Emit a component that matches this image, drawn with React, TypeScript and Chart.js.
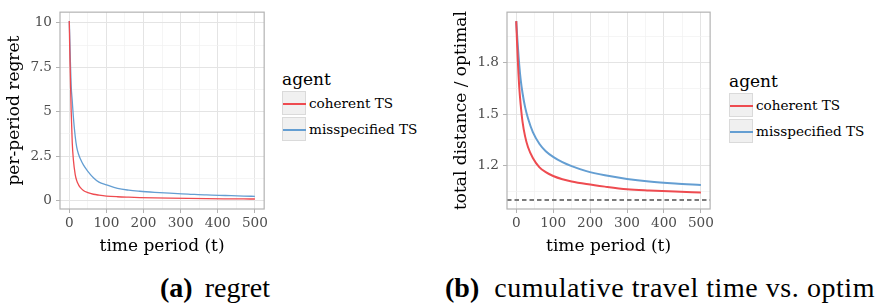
import React, { useEffect, useRef } from 'react';
import { Chart, registerables } from 'chart.js';

Chart.register(...registerables);

// ---------- data ----------
const T_REGRET = [0, 1, 2, 3, 5, 8, 11, 16, 20, 25, 30, 38, 50, 65, 80, 100, 130, 160, 190, 230, 270, 320, 370, 420, 470, 500];
const COHERENT_REGRET = [10.1, 8.8, 7.8, 6.9, 5.1, 3.25, 2.3, 1.46, 1.12, 0.88, 0.72, 0.56, 0.44, 0.35, 0.3, 0.25, 0.21, 0.185, 0.165, 0.145, 0.13, 0.115, 0.103, 0.094, 0.086, 0.082];
const MISSPEC_REGRET = [10.1, 9.4, 8.6, 7.8, 6.5, 5.6, 4.7, 3.6, 3.0, 2.6, 2.33, 2.0, 1.64, 1.28, 1.03, 0.88, 0.68, 0.58, 0.52, 0.46, 0.41, 0.36, 0.31, 0.28, 0.25, 0.23];

const T_TRAVEL = [0, 2, 4, 6, 8, 12, 17, 24, 32, 45, 63, 80, 100, 125, 150, 190, 240, 300, 360, 430, 500];
const COHERENT_TRAVEL = [2.04, 1.925, 1.825, 1.735, 1.66, 1.555, 1.456, 1.37, 1.307, 1.245, 1.19, 1.162, 1.14, 1.121, 1.108, 1.093, 1.078, 1.063, 1.0555, 1.049, 1.044];
const MISSPEC_TRAVEL = [2.04, 1.97, 1.905, 1.845, 1.789, 1.7, 1.622, 1.54, 1.474, 1.395, 1.326, 1.284, 1.251, 1.22, 1.197, 1.168, 1.144, 1.123, 1.108, 1.096, 1.087];
const OPTIMAL_LEVEL = 1.0;

const SERIES_NAMES = ['coherent TS', 'misspecified TS'];
const SERIES_COLORS = ['#EE4B50', '#649ED2'];

const X_TICKS = [0, 100, 200, 300, 400, 500];
const X_MINOR = [50, 150, 250, 350, 450];
const Y_REGRET_TICKS = [0, 2.5, 5, 7.5, 10];
const Y_REGRET_LABELS = ['0', '2.5', '5', '7.5', '10'];
const Y_REGRET_MINOR = [1.25, 3.75, 6.25, 8.75];
const Y_TRAVEL_TICKS = [1.2, 1.5, 1.8];
const Y_TRAVEL_LABELS = ['1.2', '1.5', '1.8'];
const Y_TRAVEL_MINOR = [1.05, 1.35, 1.65, 1.95];

const LEGEND_TITLE = 'agent';
const X_TITLE = 'time period (t)';
const Y_TITLE_REGRET = 'per-period regret';
const Y_TITLE_TRAVEL = 'total distance / optimal';
const CAPTION_A = ['(a)', 'regret'];
const CAPTION_B = ['(b)', 'cumulative travel time vs. optimal'];

// ---------- style ----------
const FONT = 'DejaVu Serif';
const CSS_FONT = '"DejaVu Serif", serif';
const CAPTION_FONT = '"Liberation Serif", serif';
const TICK_COLOR = '#4D4D4D';
const GRID_MAJOR = '#E4E4E4';
const GRID_MINOR = '#F1F1F1';
const AXIS_GREY = '#B3B3B3';

const panelPlugin = {
  id: 'panelBorder',
  afterDraw(chart: any) {
    const { ctx, chartArea: a } = chart;
    ctx.save();
    ctx.strokeStyle = AXIS_GREY;
    ctx.lineWidth = 1.2;
    ctx.strokeRect(a.left, a.top, a.right - a.left, a.bottom - a.top);
    ctx.restore();
  },
};

function refLinePlugin(value: number) {
  return {
    id: 'refLine',
    beforeDatasetsDraw(chart: any) {
      const { ctx, chartArea: a } = chart;
      const y = chart.scales.y.getPixelForValue(value);
      ctx.save();
      ctx.beginPath();
      ctx.rect(a.left, a.top, a.right - a.left, a.bottom - a.top);
      ctx.clip();
      ctx.strokeStyle = '#7A7A7A';
      ctx.lineWidth = 2;
      ctx.setLineDash([4.5, 3]);
      ctx.beginPath();
      ctx.moveTo(a.left, y);
      ctx.lineTo(a.right, y);
      ctx.stroke();
      ctx.restore();
    },
  };
}

function axisCfg(major: number[], labels: string[], minor: number[], min: number, max: number, title: string, isX: boolean) {
  const all = [...major, ...minor].sort((a, b) => a - b);
  const isMajor = (v: number) => major.some((m) => Math.abs(m - v) < 1e-9);
  return {
    type: 'linear',
    min,
    max,
    afterBuildTicks: (s: any) => {
      s.ticks = all.map((v) => ({ value: v }));
    },
    afterFit: (s: any) => {
      if (isX) s.height = 53;
      else s.width = 60;
    },
    border: { display: false },
    grid: {
      color: (c: any) => (c.tick && isMajor(c.tick.value) ? GRID_MAJOR : GRID_MINOR),
      lineWidth: (c: any) => (c.tick && isMajor(c.tick.value) ? 1 : 0.7),
      tickColor: (c: any) => (c.tick && isMajor(c.tick.value) ? AXIS_GREY : 'rgba(0,0,0,0)'),
      tickLength: 4,
      drawTicks: true,
    },
    ticks: {
      autoSkip: false,
      maxRotation: 0,
      minRotation: 0,
      padding: isX ? 2 : 4,
      color: TICK_COLOR,
      font: { family: FONT, size: 13.6 },
      callback: (v: number) => {
        const i = major.findIndex((m) => Math.abs(m - v) < 1e-9);
        return i >= 0 ? labels[i] : '';
      },
    },
    title: {
      display: true,
      text: title,
      color: '#000',
      font: { family: FONT, size: 17 },
      padding: isX ? { top: 0, bottom: 5 } : { top: 4, bottom: 4 },
    },
  };
}

function buildChart(
  canvas: HTMLCanvasElement,
  t: number[],
  series: number[][],
  yMin: number,
  yMax: number,
  yTicks: number[],
  yLabels: string[],
  yMinor: number[],
  yTitle: string,
  lineWidth: number,
  ref?: number
) {
  const plugins: any[] = [panelPlugin];
  if (ref !== undefined) plugins.push(refLinePlugin(ref));
  return new Chart(canvas, {
    type: 'line',
    data: {
      datasets: series.map((vals, si) => ({
        label: SERIES_NAMES[si],
        data: t.map((x, i) => ({ x, y: vals[i] })),
        borderColor: SERIES_COLORS[si],
        borderWidth: lineWidth,
        pointRadius: 0,
        fill: false,
        cubicInterpolationMode: 'monotone',
      })),
    },
    options: {
      animation: false,
      responsive: false,
      layout: { padding: { top: 4, right: 3, left: 0, bottom: 0 } },
      plugins: { legend: { display: false }, tooltip: { enabled: false } },
      scales: {
        x: axisCfg(X_TICKS, X_TICKS.map(String), X_MINOR, -25, 525, X_TITLE, true),
        y: axisCfg(yTicks, yLabels, yMinor, yMin, yMax, yTitle, false),
      },
    } as any,
    plugins,
  } as any);
}

function Legend({ left, top }: { left: number; top: number }) {
  return (
    <div style={{ position: 'absolute', left, top, fontFamily: CSS_FONT }}>
      <div style={{ fontSize: 17, lineHeight: '20px', height: 21, color: '#000' }}>{LEGEND_TITLE}</div>
      {SERIES_NAMES.map((name, i) => (
        <div key={name} style={{ display: 'flex', alignItems: 'center', height: 25, marginBottom: 1.6 }}>
          <div
            style={{
              width: 24,
              height: 24,
              background: '#F0F0F0',
              border: '0.5px solid #DADADA',
              position: 'relative',
              boxSizing: 'border-box',
            }}
          >
            <div
              style={{
                position: 'absolute',
                left: -0.5,
                right: -0.5,
                top: 11,
                height: 2,
                background: SERIES_COLORS[i],
              }}
            />
          </div>
          <div style={{ marginLeft: 3, fontSize: 13.6, color: '#000', whiteSpace: 'nowrap' }}>{name}</div>
        </div>
      ))}
    </div>
  );
}

function Caption({ left, parts, gap, spacing }: { left: number; parts: string[]; gap: number; spacing: number }) {
  return (
    <div
      style={{
        position: 'absolute',
        left,
        top: 274,
        fontFamily: CAPTION_FONT,
        fontSize: 28,
        lineHeight: '28px',
        whiteSpace: 'nowrap',
        color: '#000',
      }}
    >
      <span style={{ fontWeight: 'bold', marginRight: gap }}>{parts[0]}</span>
      <span style={{ letterSpacing: spacing }}>{parts[1]}</span>
    </div>
  );
}

export default function App() {
  const refA = useRef<HTMLCanvasElement>(null);
  const refB = useRef<HTMLCanvasElement>(null);

  useEffect(() => {
    const a = buildChart(
      refA.current!,
      T_REGRET,
      [COHERENT_REGRET, MISSPEC_REGRET],
      -0.48,
      10.6,
      Y_REGRET_TICKS,
      Y_REGRET_LABELS,
      Y_REGRET_MINOR,
      Y_TITLE_REGRET,
      1.3
    );
    const b = buildChart(
      refB.current!,
      T_TRAVEL,
      [COHERENT_TRAVEL, MISSPEC_TRAVEL],
      0.948,
      2.092,
      Y_TRAVEL_TICKS,
      Y_TRAVEL_LABELS,
      Y_TRAVEL_MINOR,
      Y_TITLE_TRAVEL,
      2,
      OPTIMAL_LEVEL
    );
    return () => {
      a.destroy();
      b.destroy();
    };
  }, []);

  return (
    <div
      style={{
        position: 'absolute',
        left: 0,
        top: 0,
        width: 875,
        height: 308,
        overflow: 'hidden',
        background: '#fff',
      }}
    >
      <canvas ref={refA} width={270} height={262} style={{ position: 'absolute', left: 0, top: 0, width: 270, height: 262 }} />
      <canvas ref={refB} width={269} height={262} style={{ position: 'absolute', left: 447, top: 0, width: 269, height: 262 }} />
      <Legend left={282} top={69} />
      <Legend left={729} top={71} />
      <Caption left={160} parts={CAPTION_A} gap={12} spacing={0} />
      <Caption left={445} parts={CAPTION_B} gap={15} spacing={0.55} />
    </div>
  );
}
